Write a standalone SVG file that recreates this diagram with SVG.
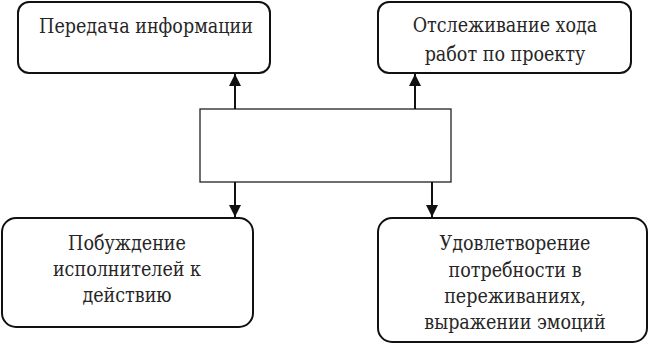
<svg xmlns="http://www.w3.org/2000/svg" width="650" height="351" viewBox="0 0 650 351">
<defs>
<style>
.box{fill:#fff;stroke:#111;stroke-width:2}
.t{font-family:'DejaVu Serif Condensed','DejaVu Serif',serif;font-stretch:condensed;font-size:19.5px;fill:#262626;text-anchor:middle}
.c{stroke:#111;stroke-width:2;fill:none}
</style>
<marker id="ah" markerWidth="12" markerHeight="12" viewBox="0 0 12 12" refX="12" refY="6" orient="auto" markerUnits="userSpaceOnUse">
<path d="M0,0 L12,6 L0,12 Z" fill="#111"/>
</marker>
</defs>
<rect width="650" height="351" fill="#fff"/>
<g id="n1"><rect class="box" x="18" y="2" width="252" height="71" rx="11"/>
<text class="t" x="146" y="33">Передача информации</text></g>
<g id="n2"><rect class="box" x="378" y="2" width="253" height="71" rx="11"/>
<text class="t" x="505" y="32">Отслеживание хода</text>
<text class="t" x="505" y="61">работ по проекту</text></g>
<g id="center"><rect x="200" y="109" width="251" height="73" fill="#fff" stroke="#222" stroke-width="1.3"/></g>
<g id="n3"><rect class="box" x="2" y="218" width="251" height="109" rx="14"/>
<text class="t" x="127" y="250">Побуждение</text>
<text class="t" x="127" y="276">исполнителей к</text>
<text class="t" x="127" y="302">действию</text></g>
<g id="n4"><rect class="box" x="378" y="218" width="269" height="124" rx="14"/>
<text class="t" x="515" y="250">Удовлетворение</text>
<text class="t" x="515" y="277">потребности в</text>
<text class="t" x="515" y="303">переживаниях,</text>
<text class="t" x="515" y="329">выражении эмоций</text></g>
<g id="connectors">
<line class="c" x1="235" y1="109" x2="235" y2="74" marker-end="url(#ah)"/>
<line class="c" x1="415" y1="109" x2="415" y2="74" marker-end="url(#ah)"/>
<line class="c" x1="235" y1="182" x2="235" y2="217" marker-end="url(#ah)"/>
<line class="c" x1="432" y1="182" x2="432" y2="217" marker-end="url(#ah)"/>
</g>
</svg>
